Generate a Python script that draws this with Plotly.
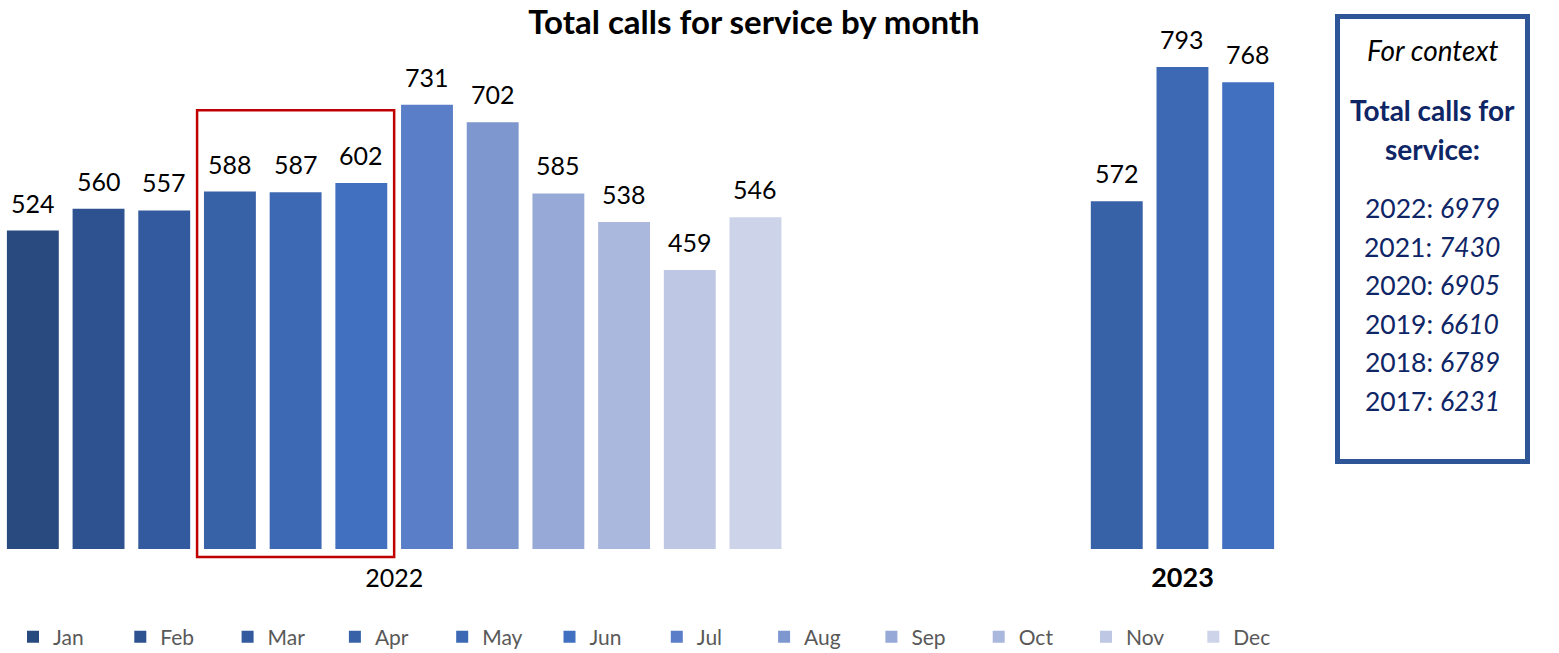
import plotly.graph_objects as go

# ---- data ----
months = ["Jan", "Feb", "Mar", "Apr", "May", "Jun", "Jul", "Aug", "Sep", "Oct", "Nov", "Dec"]
values_2022 = [524, 560, 557, 588, 587, 602, 731, 702, 585, 538, 459, 546]
months_2023 = ["Jan", "Feb", "Mar"]
values_2023 = [572, 793, 768]
year_labels = ["2022", "2023"]
context_years = ["2022", "2021", "2020", "2019", "2018", "2017"]
context_totals = [6979, 7430, 6905, 6610, 6789, 6231]

# ---- styles ----
month_colors = ["#294A7E", "#2E5290", "#335A9E", "#3862A8", "#3C68B4", "#4270C1",
                "#5A7EC7", "#7F97CF", "#97A9D6", "#ABB8DD", "#BEC7E4", "#CDD4E9"]
colors_2023 = month_colors[3:6]
FONT = "Lato, 'Open Sans', sans-serif"
W, H = 1559, 653
BAR_W = 0.79
GAP_2023 = 4.5


def px(p):
    return p / W


def py(p):
    return 1 - p / H


x2022 = list(range(len(months)))
x2023 = [len(months) + GAP_2023 + i for i in range(len(months_2023))]

fig = go.Figure()
for i, m in enumerate(months):
    fig.add_trace(go.Bar(x=[x2022[i]], y=[values_2022[i]], name=m, legendgroup=m,
                         marker=dict(color=month_colors[i], line=dict(width=0)),
                         width=BAR_W, hovertemplate=f"2022 {m}: %{{y}}<extra></extra>"))
for i, m in enumerate(months_2023):
    fig.add_trace(go.Bar(x=[x2023[i]], y=[values_2023[i]], name=m, legendgroup=m,
                         showlegend=False,
                         marker=dict(color=colors_2023[i], line=dict(width=0)),
                         width=BAR_W, hovertemplate=f"2023 {m}: %{{y}}<extra></extra>"))

annotations = []
for xs, vs in ((x2022, values_2022), (x2023, values_2023)):
    for x, v in zip(xs, vs):
        annotations.append(dict(x=x, y=v, xref="x", yref="y", text=str(v), showarrow=False,
                                xanchor="center", yanchor="bottom", yshift=11,
                                font=dict(family=FONT, size=25, color="#000000")))

# context box text
box_cx = px(1432)
NAVY = "#0E2566"
annotations.append(dict(x=box_cx, y=py(50), xref="paper", yref="paper", showarrow=False,
                        text="<i>For context</i>", xanchor="center", yanchor="middle",
                        font=dict(family=FONT, size=28, color="#000000")))
annotations.append(dict(x=box_cx, y=py(110), xref="paper", yref="paper", showarrow=False,
                        text="<b>Total calls for</b>", xanchor="center", yanchor="middle",
                        font=dict(family=FONT, size=28, color=NAVY)))
annotations.append(dict(x=box_cx, y=py(149), xref="paper", yref="paper", showarrow=False,
                        text="<b>service:</b>", xanchor="center", yanchor="middle",
                        font=dict(family=FONT, size=28, color=NAVY)))
for k, (yr, tot) in enumerate(zip(context_years, context_totals)):
    annotations.append(dict(x=box_cx, y=py(208 + k * 38.6), xref="paper", yref="paper",
                            showarrow=False, text=f"{yr}: <i>{tot}</i>",
                            xanchor="center", yanchor="middle",
                            font=dict(family=FONT, size=26.5, color=NAVY)))

shapes = [
    dict(type="rect", xref="x", yref="y", x0=x2022[3] - 0.5, x1=x2022[5] + 0.5,
         y0=-13, y1=722, line=dict(color="#C00000", width=2.5), fillcolor="rgba(0,0,0,0)"),
    dict(type="rect", xref="paper", yref="paper", x0=px(1337.5), x1=px(1527.5),
         y0=py(461.5), y1=py(16.5), line=dict(color="#2E5597", width=5),
         fillcolor="rgba(0,0,0,0)"),
]

px_per_unit = 0.6078
plot_bottom = 560
y_lo = -(plot_bottom - 549) / px_per_unit
y_hi = 549 / px_per_unit

fig.update_layout(
    width=W, height=H,
    margin=dict(l=0, r=0, t=0, b=0, autoexpand=False),
    paper_bgcolor="white", plot_bgcolor="white",
    barmode="overlay",
    title=dict(text="<b>Total calls for service by month</b>", x=px(754), xanchor="center",
               y=py(22), yanchor="middle", xref="paper", yref="paper",
               font=dict(family=FONT, size=33, color="#000000")),
    xaxis=dict(domain=[0, px(1281)], range=[-0.5, 19.0],
               showgrid=False, zeroline=False,
               showline=False, tickmode="array",
               tickvals=[sum(x2022) / len(x2022), sum(x2023) / len(x2023)],
               ticktext=[year_labels[0],
                         f"<span style='font-size:27px'><b>{year_labels[1]}</b></span>"],
               ticks="", ticklabelstandoff=1,
               tickfont=dict(family=FONT, size=25, color="#000000")),
    yaxis=dict(domain=[py(plot_bottom), 1], range=[y_lo, y_hi], visible=False),
    showlegend=True,
    legend=dict(orientation="h", x=px(13), xanchor="left", y=py(637), yanchor="middle",
                entrywidth=62.3, entrywidthmode="pixels", traceorder="normal",
                font=dict(family=FONT, size=21, color="#595959"), bgcolor="rgba(0,0,0,0)"),
    annotations=annotations,
    shapes=shapes,
)

fig.write_html("out.html", config={"displayModeBar": False},
               post_script="document.body.style.margin='0';document.body.style.overflow='hidden';")
